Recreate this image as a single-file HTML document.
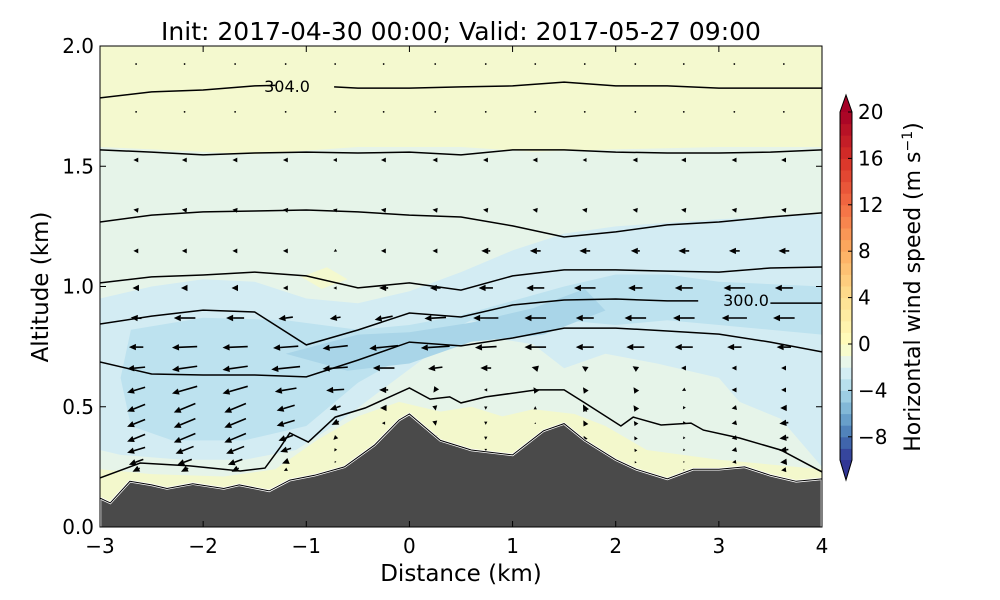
<!DOCTYPE html>
<html><head><meta charset="utf-8">
<style>
html,body{margin:0;padding:0;background:#fff;}
svg{display:block;font-family:"DejaVu Sans","Liberation Sans",sans-serif;}
</style></head>
<body>
<svg id="chart" width="1000" height="600" viewBox="0 0 1000 600">
  <defs><clipPath id="plotclip"><rect x="100" y="46" width="722" height="481"/></clipPath></defs>
  <text x="461" y="40" font-size="25" text-anchor="middle">Init: 2017-04-30 00:00; Valid: 2017-05-27 09:00</text>
  <g id="fills" clip-path="url(#plotclip)"></g>
  <g id="arrows" clip-path="url(#plotclip)"></g>
  <g id="lines" clip-path="url(#plotclip)"></g>
  <g id="terrain" clip-path="url(#plotclip)"></g>
  <g id="labels"></g>
  <rect x="100" y="46" width="722" height="481" fill="none" stroke="#000" stroke-width="1"/>
  <g id="axes"></g>
  <text x="461" y="581" font-size="23" text-anchor="middle">Distance (km)</text>
  <text transform="translate(48,287) rotate(-90)" font-size="23" text-anchor="middle">Altitude (km)</text>
  <g id="cbar"></g>
  <text transform="translate(920,287) rotate(-90)" font-size="22" text-anchor="middle">Horizontal wind speed (m s<tspan dy="-8" font-size="14">−1</tspan><tspan dy="8">)</tspan></text>
</svg>
<script>
const xTicks=[-3,-2,-1,0,1,2,3,4];
const yTicks=[0.0,0.5,1.0,1.5,2.0];
const cbTicks=[-8,-4,0,4,8,12,16,20];
const terrainX=[-3,-2.9,-2.71,-2.5,-2.35,-2.1,-1.8,-1.65,-1.36,-1.16,-0.92,-0.63,-0.34,-0.1,0,0.3,0.6,1,1.3,1.5,1.7,2,2.2,2.5,2.75,3,3.25,3.5,3.75,4];
const terrainZ=[0.12,0.10,0.19,0.175,0.16,0.18,0.16,0.175,0.15,0.195,0.215,0.25,0.34,0.445,0.47,0.36,0.32,0.30,0.40,0.43,0.36,0.28,0.24,0.20,0.24,0.24,0.25,0.215,0.19,0.20];
const gridX=[-3,-2.5,-2,-1.5,-1,-0.5,0,0.5,1,1.5,2,2.5,3,3.5,4];
const thetaA=[1.784,1.809,1.817,1.834,1.83,1.825,1.825,1.83,1.834,1.85,1.834,1.834,1.825,1.825,1.825];
const thetaB=[1.568,1.559,1.547,1.555,1.559,1.555,1.559,1.547,1.568,1.568,1.559,1.555,1.555,1.559,1.568];
const thetaC=[1.268,1.297,1.31,1.314,1.318,1.31,1.297,1.289,1.252,1.206,1.227,1.256,1.268,1.289,1.306];
const thetaD=[1.015,1.04,1.048,1.06,1.044,0.994,1.015,0.985,1.044,1.069,1.069,1.064,1.06,1.077,1.081];
const thetaE=[0.844,0.877,0.902,0.894,0.757,0.819,0.89,0.873,0.923,0.944,0.948,0.94,0.931,0.931,0.931];
const thetaF=[0.686,0.636,0.632,0.632,0.624,0.694,0.769,0.753,0.786,0.827,0.827,0.815,0.802,0.769,0.728];
const thetaGx=[-3,-2.61,-2.13,-1.64,-1.4,-1.25,-1.16,-0.98,-0.72,-0.43,0,0.2,0.39,0.5,0.74,1.23,1.5,1.7,2.05,2.17,2.44,2.73,2.85,3.2,3.6,4];
const thetaGz=[0.204,0.266,0.254,0.233,0.245,0.333,0.391,0.353,0.457,0.495,0.578,0.532,0.541,0.516,0.541,0.57,0.57,0.516,0.42,0.457,0.424,0.432,0.403,0.37,0.32,0.229];
const arrowCols=[-2.65,-2.18,-1.69,-1.2,-0.72,-0.25,0.25,0.74,1.22,1.7,2.19,2.66,3.15,3.63];
const arrowRows=[1.925,1.726,1.526,1.318,1.148,0.994,0.869,0.748,0.661,0.57,0.495,0.432,0.37,0.32,0.27,0.237];
const windU=[
[-0.3,-0.3,-0.3,-0.3,-0.3,-0.3,-0.3,-0.3,-0.3,-0.3,-0.3,-0.3,-0.3,-0.3],
[-0.3,-0.3,-0.3,-0.3,-0.3,-0.3,-0.3,-0.3,-0.3,-0.3,-0.3,-0.3,-0.3,-0.3],
[-1.5,-1.5,-1.5,-1.5,-1.2,-1.5,-1.5,-1.5,-1.5,-1.2,-1.5,-1.5,-1.5,-1.5],
[-1.5,-1.5,-1.5,-1.5,-1.2,-1.5,-1.5,-1.5,-1.5,-1.5,-1.5,-1.5,-1.5,-1.5],
[-1.5,-1.5,-1.5,-1.5,-0.8,-1.5,-1.5,-2.5,-3,-3,-2.5,-3,-3,-3],
[-2,-2,-2,-1.5,-1,-2.5,-3,-4,-5,-6,-4,-5,-6,-5],
[-3,-6,-5,-4,-3,-5,-6,-7,-6,-5,-6,-6,-7,-6],
[-4,-7,-7,-7,-7,-8,-8,-6,-6,-5,-5,-5,-4,-4],
[-5,-7,-7,-8,-7,-6,-4,-3,-2,-1.5,-1.5,-1.5,-1.5,-1.5],
[-5,-7,-7,-6,-5,-2.5,-1,-1,-1,-1,-1,-1,-1.5,-1.5],
[-5,-6,-6,-5,-3,-2,0.3,0,0,-1,-1,-0.5,-1.5,-2],
[-5,-6,-6,-5,-2,-1,0.3,0,0,-0.8,-0.8,-0.5,-1.5,-2.5],
[-5,-6,-6,-4,-1,-0.5,0.3,0,0,-0.6,-0.6,-0.5,-1.5,-2.5],
[-5,-5,-5,-3,-0.5,-0.5,0.3,0,0,-0.5,-0.5,-0.5,-1.5,-2.5],
[-4,-4,-4,-2,-0.3,-0.3,0.2,0,0,-0.3,-0.3,-0.3,-1.2,-2],
[-2,-2,-2,-1,-0.3,-0.3,0.2,0,0,-0.3,-0.3,-0.3,-1,-1.5]];
const windW=[
[0,0,0,0,0,0,0,0,0,0,0,0,0,0],
[0,0,0,0,0,0,0,0,0,0,0,0,0,0],
[0,0,0,0,0,0,0,0,0,0,0,0,0,0],
[0.2,0.2,0.2,0.2,0.3,0.2,0.2,0.2,0.2,0.2,0.2,0.2,0.2,0.2],
[0,0,0,0,-0.5,0,0,0,0,0,0,0,0,0],
[0,0,0,0,0,0,0,0,0,0,0,0,0,0],
[0.2,0,0,-0.5,-0.5,-1,-0.3,0,0,0,0,0,0,0],
[0,-0.3,-0.3,-0.5,-0.8,-0.8,-0.5,-0.3,0,0,0,0,0,0],
[-0.5,-1,-1,-0.8,-0.5,0,-0.5,0,0.5,1,1,0,0,0],
[-1.5,-2,-2,-1,-0.3,0,-1.5,0,1.5,1.5,1.5,-0.5,0,0],
[-2,-2.5,-2.5,-1.5,-1,0,-1.5,-1,1,2,1.5,-0.8,-0.3,0],
[-2,-2.5,-2.5,-1.5,-1,0,-1.5,-1,0.5,1.5,1.2,-0.8,-0.3,-0.3],
[-2,-2.5,-2.5,-1.5,-1,0,-1.5,-1,0.5,1.2,1,-0.6,-0.3,-0.3],
[-1.5,-2,-2,-1,-0.8,0,-1.2,-0.8,0.3,1,0.8,-0.5,-0.3,-0.3],
[-1.5,-1.5,-1.5,-0.8,-0.5,0,-1,-0.6,0.2,0.8,0.6,-0.4,-0.2,-0.2],
[-1,-1,-1,-0.5,-0.5,0,-0.8,-0.5,0.2,0.6,0.4,-0.3,-0.2,-0.2]];
const regionYellowTop=[[-3,2.1],[4,2.1],[4,1.58],[3,1.58],[2,1.57],[1.2,1.56],[0.5,1.58],[-0.5,1.58],[-1.5,1.55],[-2.5,1.57],[-3,1.58]];
const regionYellowGround=[[-3,0.24],[-2.5,0.22],[-1.8,0.21],[-1.3,0.24],[-0.9,0.36],[-0.5,0.46],[-0.1,0.52],[0.3,0.48],[0.6,0.5],[0.9,0.46],[1.2,0.49],[1.6,0.47],[1.9,0.42],[2.3,0.32],[3,0.28],[4,0.24],[4,0],[-3,0]];
const regionYellowPatch=[[-1.05,1.04],[-0.8,1.08],[-0.6,1.03],[-0.85,0.99]];
const regionBlue1=[[-3,0.95],[-2.5,1.0],[-2,1.03],[-1.5,1.02],[-1,0.95],[-0.5,0.93],[0,0.98],[0.5,1.06],[1,1.15],[1.5,1.22],[2,1.25],[3,1.28],[4,1.3],[4,0.25],[3.6,0.45],[3.2,0.52],[3.0,0.62],[2.4,0.68],[1.9,0.72],[1.5,0.66],[1.2,0.76],[0.6,0.8],[0.2,0.72],[-0.3,0.56],[-0.7,0.43],[-1.1,0.32],[-1.6,0.28],[-2.2,0.28],[-2.8,0.3],[-3,0.32]];
const regionBlue2=[[-2.7,0.82],[-2,0.87],[-1.2,0.86],[-0.5,0.82],[0,0.84],[0.5,0.88],[1,0.94],[1.5,1.0],[2,1.05],[2.5,1.05],[3,1.02],[4,1.0],[4,0.8],[3,0.84],[2.5,0.86],[2,0.84],[1.5,0.86],[1,0.84],[0.6,0.86],[0.3,0.8],[0,0.72],[-0.5,0.6],[-1,0.42],[-1.6,0.36],[-2.3,0.36],[-2.7,0.42],[-2.8,0.62]];
const regionBlue3=[[-1.2,0.72],[-0.5,0.8],[0,0.81],[0.6,0.85],[1.2,0.91],[1.7,0.99],[1.9,0.9],[1.3,0.8],[0.6,0.77],[0,0.68],[-0.6,0.65]];
const cmapStops=["#313695","#4575b4","#74add1","#abd9e9","#e0f3f8","#ffffbf","#fee090","#fdae61","#f46d43","#d73027","#a50026"];

const NS="http://www.w3.org/2000/svg";
const X0=100,X1=822,Y0=527,Y1=46;
function sx(v){return X0+(v-(-3))/(4-(-3))*(X1-X0);}
function sy(v){return Y0-(v-0)/(2-0)*(Y0-Y1);}
function mk(tag,attrs,parent){const e=document.createElementNS(NS,tag);for(const k in attrs)e.setAttribute(k,attrs[k]);parent.appendChild(e);return e;}
function polyPath(pts){return pts.map((p,i)=>(i?'L':'M')+sx(p[0]).toFixed(1)+','+sy(p[1]).toFixed(1)).join('')+'Z';}
function smoothPath(xs,zs){let d='';for(let i=0;i<xs.length;i++){d+=(i?'L':'M')+sx(xs[i]).toFixed(1)+','+sy(zs[i]).toFixed(1);}return d;}

const fills=document.getElementById('fills');
let bg=mk('rect',{x:100,y:46,width:722,height:481,fill:'#e6f4e9'},fills);


const regs=[[regionYellowTop,'#f4f9cf','fill-upper-calm'],[regionBlue1,'#d3ecf3','fill-weak-easterly'],[regionBlue2,'#bde2ef','fill-moderate-easterly'],[regionBlue3,'#a9d5e8','fill-strong-easterly'],[regionYellowGround,'#f3f8cc','fill-surface-calm'],[regionYellowPatch,'#f4f9cf','fill-calm-patch']];
regs.forEach(r=>{const p=mk('path',{d:polyPath(r[0]),fill:r[1]},fills);

});

const ag=document.getElementById('arrows');
const SC=3.6;
arrowRows.forEach((z,ri)=>{arrowCols.forEach((x,ci)=>{
  const u=windU[ri][ci],w=windW[ri][ci];
  const px=sx(x),py=sy(z);
  const dx=u*SC,dy=-w*SC;
  const L=Math.hypot(dx,dy);
  const g=mk('g',{},ag);
  
  
  if(L<1.5){mk('circle',{cx:px,cy:py,r:0.9,fill:'#000'},g);return;}
  const ux=dx/L,uy=dy/L;
  const hl=Math.min(7,L*0.9),hw=Math.min(3.2,hl*0.5);
  const tx=px+dx/2,ty=py+dy/2,bx=px-dx/2,by=py-dy/2;
  const hx=tx-ux*hl,hy=ty-uy*hl;
  if(L>hl+1)mk('line',{x1:bx,y1:by,x2:hx,y2:hy,stroke:'#000','stroke-width':1.6},g);
  mk('polygon',{points:`${tx},${ty} ${hx-uy*hw},${hy+ux*hw} ${hx+uy*hw},${hy-ux*hw}`,fill:'#000'},g);
});});

const lg=document.getElementById('lines');
function addLine(d,name){const p=mk('path',{d:d,fill:'none',stroke:'#000','stroke-width':1.5},lg);

}
{const xsL=[],zsL=[],xsR=[],zsR=[];gridX.forEach((x,i)=>{if(x<=-1.5){xsL.push(x);zsL.push(thetaA[i]);}else if(x>=-0.5){xsR.push(x);zsR.push(thetaA[i]);}});
 xsL.push(-1.3);zsL.push(1.836);xsR.unshift(-0.73);zsR.unshift(1.83);
 addLine(smoothPath(xsL,zsL)+smoothPath(xsR,zsR),'isentrope-304');}
addLine(smoothPath(gridX,thetaB),'isentrope-303');
addLine(smoothPath(gridX,thetaC),'isentrope-302');
addLine(smoothPath(gridX,thetaD),'isentrope-301');
{const xsL=[],zsL=[],xsR=[],zsR=[];gridX.forEach((x,i)=>{if(x<=2.5){xsL.push(x);zsL.push(thetaE[i]);}else if(x>=3.5){xsR.push(x);zsR.push(thetaE[i]);}});
 xsL.push(2.8);zsL.push(0.94);xsR.unshift(3.67);zsR.unshift(0.931);
 addLine(smoothPath(xsL,zsL)+smoothPath(xsR,zsR),'isentrope-300');}
addLine(smoothPath(gridX,thetaF),'isentrope-299');
addLine(smoothPath(thetaGx,thetaGz),'isentrope-298');

const lab=document.getElementById('labels');
let t1=mk('text',{x:287,y:92,'font-size':16,'text-anchor':'middle'},lab);t1.textContent='304.0';


let t2=mk('text',{x:746,y:306,'font-size':16,'text-anchor':'middle'},lab);t2.textContent='300.0';



const tg=document.getElementById('terrain');
const tp=terrainX.map((x,i)=>[x,terrainZ[i]]);
const tpath=mk('path',{d:polyPath([[-3,-0.1]].concat(tp).concat([[4,-0.1]])),fill:'#4a4a4a',stroke:'#fff','stroke-width':2.5},tg);


const tline=mk('path',{d:smoothPath(terrainX,terrainZ),fill:'none',stroke:'#000','stroke-width':1},tg);



const ax=document.getElementById('axes');
xTicks.forEach(v=>{const x=sx(v);
 mk('line',{x1:x,y1:Y0,x2:x,y2:Y0-6,stroke:'#000'},ax);mk('line',{x1:x,y1:Y1,x2:x,y2:Y1+6,stroke:'#000'},ax);
 const t=mk('text',{x:x,y:553,'font-size':20,'text-anchor':'middle'},ax);t.textContent=(v<0?'\u2212'+(-v):v);
 
 });
yTicks.forEach(v=>{const y=sy(v);
 mk('line',{x1:X0,y1:y,x2:X0+6,y2:y,stroke:'#000'},ax);mk('line',{x1:X1,y1:y,x2:X1-6,y2:y,stroke:'#000'},ax);
 const t=mk('text',{x:94,y:y+7,'font-size':20,'text-anchor':'end'},ax);t.textContent=v.toFixed(1);
 
 });

function hex(c){return [1,3,5].map(i=>parseInt(c.substr(i,2),16));}
function cmap(t){t=Math.max(0,Math.min(1,t));const n=cmapStops.length-1;const i=Math.min(n-1,Math.floor(t*n));const f=t*n-i;const a=hex(cmapStops[i]),b=hex(cmapStops[i+1]);return 'rgb('+a.map((v,k)=>Math.round(v+(b[k]-v)*f)).join(',')+')';}
function norm(v){return v<0?0.5*(v+10)/10:0.5+0.5*v/20;}
const cb=document.getElementById('cbar');
const CX=840,CW=12,CT=112,CB=460;
function cy(v){return CB-(v+10)/30*(CB-CT);}
for(let v=-10;v<20;v++){const r=mk('rect',{x:CX,y:cy(v+1),width:CW,height:cy(v)-cy(v+1)+0.5,fill:cmap(norm(v+0.5))},cb);
 
 }
mk('polygon',{points:`${CX},${CT} ${CX+CW/2},${CT-17} ${CX+CW},${CT}`,fill:cmap(1)},cb);
mk('polygon',{points:`${CX},${CB} ${CX+CW/2},${CB+20} ${CX+CW},${CB}`,fill:cmap(0)},cb);
mk('polygon',{points:`${CX},${CT} ${CX+CW/2},${CT-17} ${CX+CW},${CT} ${CX+CW},${CB} ${CX+CW/2},${CB+20} ${CX},${CB}`,fill:'none',stroke:'#000','stroke-width':1},cb);
cbTicks.forEach(v=>{const y=cy(v);mk('line',{x1:CX+CW-4,y1:y,x2:CX+CW,y2:y,stroke:'#000'},cb);
 const t=mk('text',{x:858,y:y+7,'font-size':20},cb);t.textContent=(v<0?'\u2212'+(-v):v);
 
 });
</script>
</body></html>
